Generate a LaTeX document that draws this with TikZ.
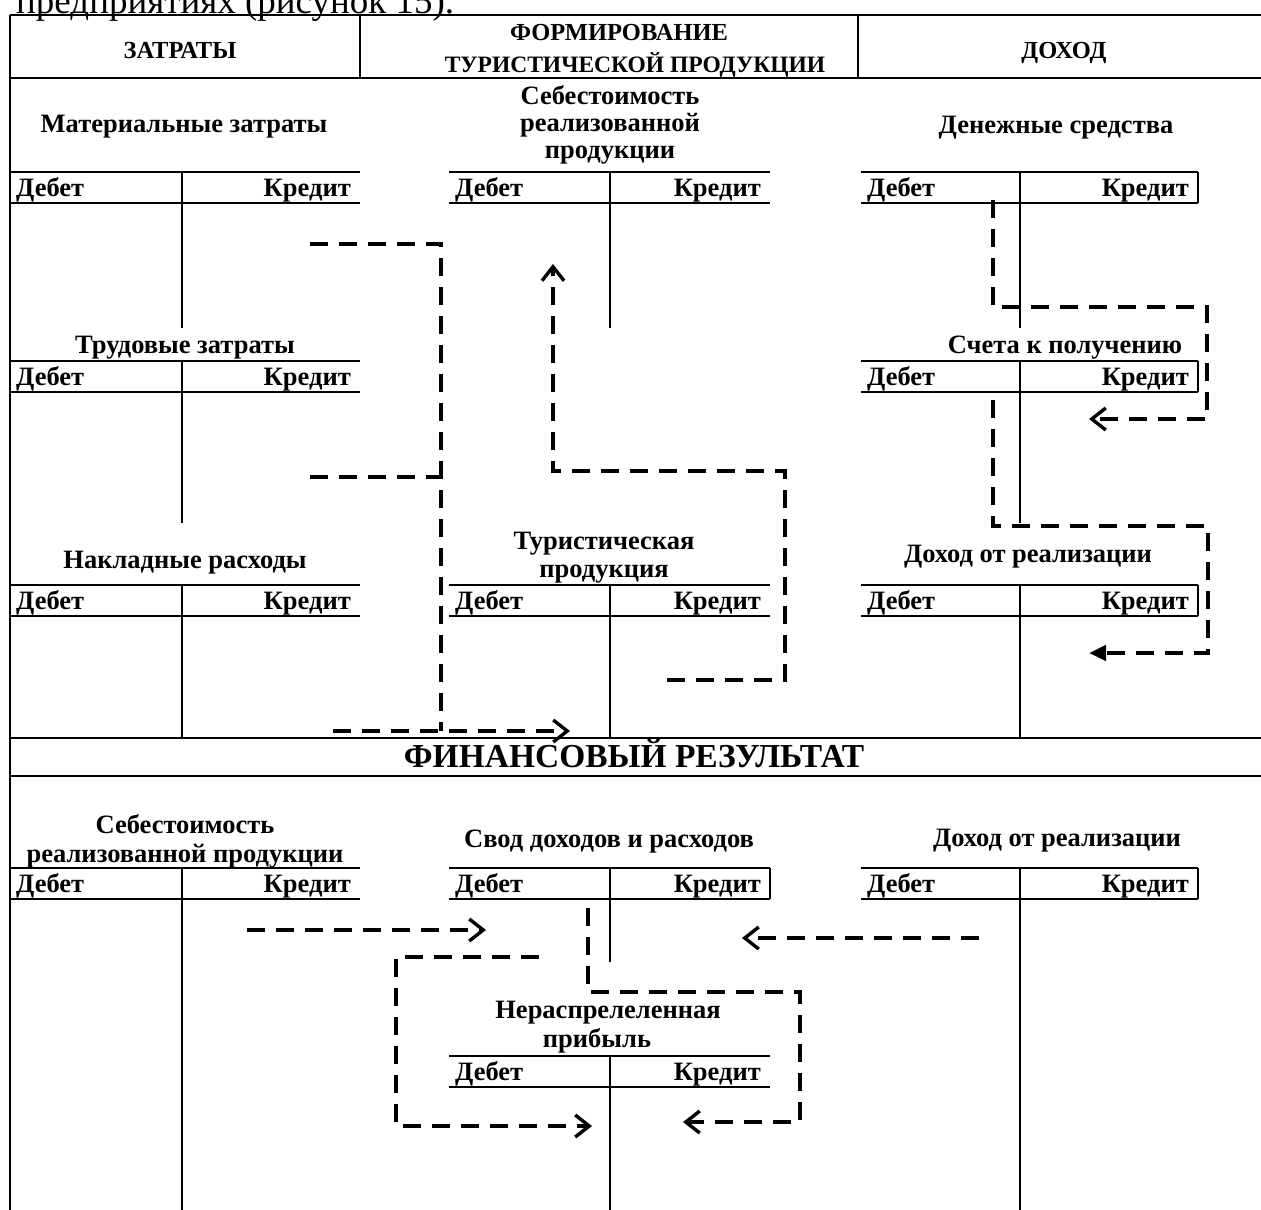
\documentclass[tikz,border=0pt]{standalone}
\usepackage{fontspec}
\setmainfont{Liberation Serif}
\usetikzlibrary{arrows.meta}

\tikzset{
  frameline/.style={line width=2.6pt},
  acctline/.style={line width=2.4pt},
  midline/.style={line width=2pt},
  lbl/.style={font=\bfseries\fontsize{26.5}{26.5}\selectfont, inner sep=0pt},
  ttl/.style={lbl, anchor=base},
  hdr/.style={font=\bfseries\fontsize{24.5}{24.5}\selectfont, inner sep=0pt, anchor=base},
  band/.style={font=\bfseries\fontsize{33.5}{33.5}\selectfont, inner sep=0pt, anchor=base},
  flow/.style={line width=4.2pt, dash pattern=on 18pt off 11pt},
  opentip/.style={-{Straight Barb[length=14pt,width=22pt,line width=3.4pt]}},
  filledtip/.style={-{Triangle[length=17pt,width=15pt]}},
}

% T-account: #1 name, #2 left, #3 middle, #4 right, #5 top, #6 end of the middle line
\newcommand\Tacct[6]{%
  \draw[acctline] (#2,#5) -- (#4,#5) (#2,#5+31) -- (#4,#5+31);
  \draw[midline] (#3,#5) -- (#3,#6);
  \node[lbl, anchor=base west] (#1-d) at (#2+6,#5+24) {Дебет};
  \node[lbl, anchor=base east] (#1-k) at (#4-9,#5+24) {Кредит};
}
% the same account with its heading row closed on the right
\newcommand\TacctBox[6]{%
  \Tacct{#1}{#2}{#3}{#4}{#5}{#6}
  \draw[midline] (#4,#5) -- (#4,#5+31);
}

\begin{document}
\begin{tikzpicture}[x=1pt,y=-1pt]
\useasboundingbox (0,0) rectangle (1261,1210);
\clip (0,0) rectangle (1261,1210);

% preceding paragraph line
\node[anchor=base west, inner sep=0pt, font=\fontsize{37}{37}\selectfont] (lead) at (16,13) {предприятиях (рисунок 15).};

% frame and column headings
\draw[frameline] (10,15) -- (1261,15);
\draw[frameline] (10,78) -- (1261,78);
\draw[frameline] (360,15) -- (360,78);
\draw[frameline] (858,15) -- (858,78);
\draw[frameline] (10,15) -- (10,1210);
\node[hdr] (hcost) at (180,58) {ЗАТРАТЫ};
\node[hdr] (hform1) at (619,40) {ФОРМИРОВАНИЕ};
\node[hdr, font=\bfseries\fontsize{23.5}{23.5}\selectfont] (hform2) at (635,72) {ТУРИСТИЧЕСКОЙ ПРОДУКЦИИ};
\node[hdr] (hinc) at (1064,58) {ДОХОД};

% costs
\node[ttl] (t-mat) at (184,132) {Материальные затраты};
\Tacct{mat}{10}{182}{360}{172}{328}
\node[ttl] (t-lab) at (185,353) {Трудовые затраты};
\Tacct{lab}{10}{182}{360}{361}{523}
\node[ttl] (t-ovh) at (185,568) {Накладные расходы};
\Tacct{ovh}{10}{182}{360}{585}{738}

% product formation
\node[ttl] (t-cgs1) at (610,104) {Себестоимость};
\node[ttl] (t-cgs2) at (610,131) {реализованной};
\node[ttl] (t-cgs3) at (610,158) {продукции};
\Tacct{cgs}{449}{610}{770}{172}{328}
\node[ttl] (t-tur1) at (604,549) {Туристическая};
\node[ttl] (t-tur2) at (604,577) {продукция};
\Tacct{tur}{449}{610}{770}{585}{738}

% income
\node[ttl] (t-cash) at (1056,133) {Денежные средства};
\TacctBox{cash}{861}{1020}{1198}{172}{328}
\node[ttl] (t-rec) at (1065,353) {Счета к получению};
\TacctBox{rec}{861}{1020}{1198}{361}{523}
\node[ttl] (t-rev) at (1028,562) {Доход от реализации};
\TacctBox{rev}{861}{1020}{1198}{585}{738}

% financial result band
\draw[frameline] (10,738) -- (1261,738);
\draw[frameline] (10,776) -- (1261,776);
\node[band] (hres) at (634,767) {ФИНАНСОВЫЙ РЕЗУЛЬТАТ};

\node[ttl] (t-fcgs1) at (185,833) {Себестоимость};
\node[ttl] (t-fcgs2) at (185,862) {реализованной продукции};
\Tacct{fcgs}{10}{182}{360}{868}{1210}
\node[ttl] (t-sum) at (609,847) {Свод доходов и расходов};
\TacctBox{sum}{449}{610}{770}{868}{962}
\node[ttl] (t-frev) at (1057,846) {Доход от реализации};
\TacctBox{frev}{861}{1020}{1198}{868}{1210}
\node[ttl] (t-ret1) at (608,1018) {Нераспрелеленная};
\node[ttl] (t-ret2) at (597,1047) {прибыль};
\Tacct{ret}{449}{610}{770}{1056}{1210}

% cost flows into the tourist product
\coordinate (mat-out) at (310,244);
\coordinate (lab-out) at (310,477);
\coordinate (ovh-out) at (333,731);
\coordinate (cost-bus) at (441,731);
\coordinate (tur-in) at (570,731);
\draw[flow] (mat-out) -| (cost-bus);
\draw[flow] (lab-out) -- (lab-out -| cost-bus);
\draw[flow, opentip] (ovh-out) -- (tur-in);

% tourist product to cost of goods sold
\coordinate (tur-out) at (667,680);
\coordinate (tur-b1) at (785,680);
\coordinate (tur-b2) at (785,471);
\coordinate (cgs-in) at (553,264);
\draw[flow, opentip] (tur-out) -- (tur-b1) -- (tur-b2) -| (cgs-in);

% cash to receivables
\coordinate (cash-out) at (993,200);
\coordinate (cash-b1) at (993,307);
\coordinate (cash-b2) at (1207,307);
\coordinate (rec-in) at (1089,419);
\draw[flow, opentip] (cash-out) -- (cash-b1) -- (cash-b2) |- (rec-in);

% receivables to sales revenue
\coordinate (rec-out) at (993,400);
\coordinate (rec-b1) at (993,526);
\coordinate (rec-b2) at (1208,526);
\coordinate (rev-in) at (1089,653);
\draw[flow, filledtip] (rec-out) -- (rec-b1) -- (rec-b2) |- (rev-in);

% closing entries
\coordinate (fcgs-out) at (247,930);
\coordinate (sum-in1) at (486,930);
\draw[flow, opentip] (fcgs-out) -- (sum-in1);
\coordinate (frev-out) at (979,938);
\coordinate (sum-in2) at (742,938);
\draw[flow, opentip] (frev-out) -- (sum-in2);

\coordinate (sum-out1) at (588,908);
\coordinate (sum-b1) at (588,992);
\coordinate (sum-b2) at (800,992);
\coordinate (ret-in1) at (683,1122);
\draw[flow, opentip] (sum-out1) -- (sum-b1) -- (sum-b2) |- (ret-in1);

\coordinate (sum-out2) at (539,957);
\coordinate (sum-b3) at (396,957);
\coordinate (ret-in2) at (592,1126);
\draw[flow, opentip] (sum-out2) -- (sum-b3) |- (ret-in2);
\end{tikzpicture}
\end{document}
